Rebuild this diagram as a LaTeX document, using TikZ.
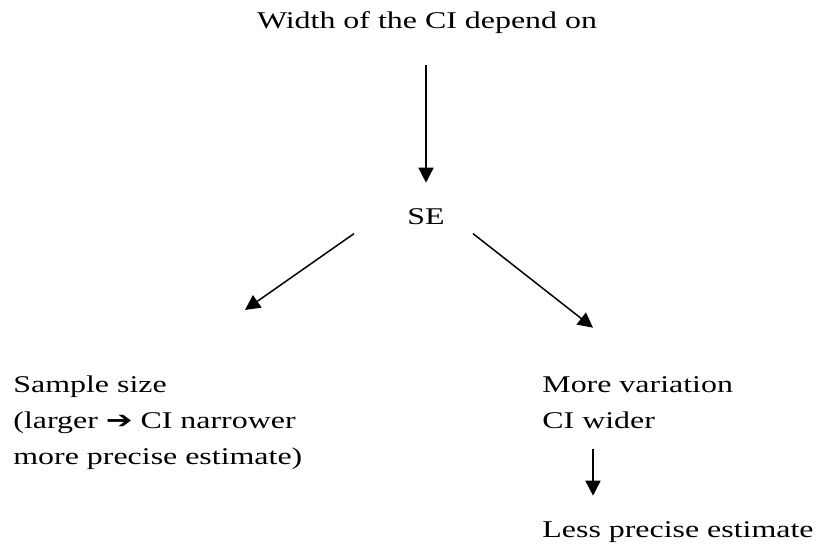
\documentclass[tikz,border=0pt]{standalone}
\usepackage{fontspec}
\setmainfont{Liberation Serif}[FakeStretch=1.33]
\newfontfamily\symfont{DejaVu Sans}[FakeStretch=1.33]
\usepackage{tikz}
\usetikzlibrary{calc,arrows.meta}

\begin{document}
\begin{tikzpicture}[x=0.5pt,y=-0.5pt]
 \tikzstyle{arrow} = [-{Triangle[length=7.5pt,width=7.5pt]},line width=0.75pt];
 \tikzstyle{placeT} = [inner sep=0pt,font=\fontsize{12}{18}\selectfont];
 \tikzstyle{placeL} = [placeT,align=left,anchor=base west];

 \useasboundingbox (0,0) rectangle (817,550);

 \node[placeT,anchor=base,name=width] at (427,29) {Width of the CI depend on};
 \node[placeT,anchor=base,name=se] at (426,225) {SE};
 \node[placeL,name=sample] at (13,464) {Sample size\\(larger {\symfont ➔} CI narrower\\more precise estimate)};
 \node[placeL,name=more] at (542,428) {More variation\\CI wider};
 \node[placeL,name=less] at (542,537) {Less precise estimate};

 \draw[arrow] ($(width.south -| se)+(0,30)$) -- ($(se.north)+(0,-26)$);
 \draw[arrow] ($(se.south west)+(-53,8)$) -- ($(sample.north west)+(232,-65)$);
 \draw[arrow] ($(se.south east)+(28,8)$) -- ($(more.north west)+(51,-48)$);
 \draw[arrow] ($(more.south west)+(51,20)$) -- ($(less.north west)+(51,-25)$);
\end{tikzpicture}
\end{document}
